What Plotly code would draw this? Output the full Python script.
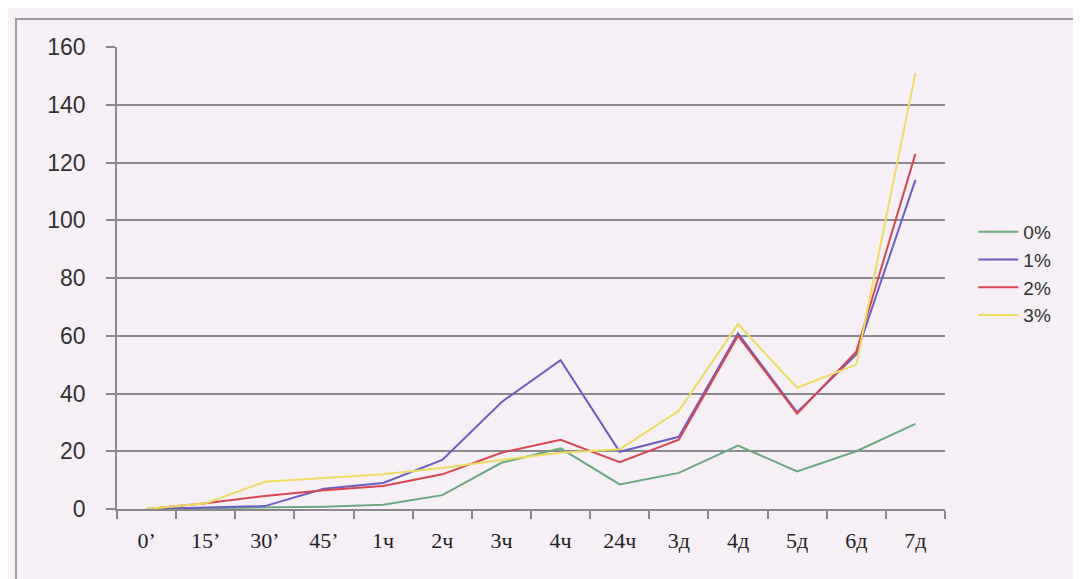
import plotly.graph_objects as go

categories = ["0’", "15’", "30’", "45’", "1ч", "2ч", "3ч", "4ч", "24ч", "3д", "4д", "5д", "6д", "7д"]
series_names = ["0%", "1%", "2%", "3%"]
s0 = [0, 0.3, 0.5, 0.8, 1.5, 4.8, 16, 21, 8.5, 12.5, 22, 13, 20, 29.5]
s1 = [0, 0.4, 1, 7, 9, 17, 37, 51.5, 19.8, 25, 60.8, 33.5, 53.5, 114]
s2 = [0, 2, 4.5, 6.5, 8, 12, 19.5, 24, 16.2, 24, 60, 33, 54.5, 123]
s3 = [0, 2, 9.4, 10.8, 12, 14.2, 17, 19.5, 20.7, 34, 64, 42, 50, 151]
y_ticks = [0, 20, 40, 60, 80, 100, 120, 140, 160]

colors = ["#69a97f", "#6a5fc0", "#d6474f", "#ecdc62"]
W, H = 1081, 579
L, R, T, B = 109, 144, 39, 78

fig = go.Figure()
for name, vals, c in zip(series_names, [s0, s1, s2, s3], colors):
    fig.add_trace(go.Scatter(x=categories, y=vals, name=name, mode="lines",
                             line=dict(color=c, width=2)))

pw = W - L - R
ph = H - T - B
def px_x(p):
    return (p - L) / pw
def px_y(p):
    return (H - B - p) / ph

fig.add_shape(type="rect", xref="paper", yref="paper",
              x0=px_x(8), x1=px_x(1100), y0=px_y(576), y1=px_y(11),
              line=dict(color="#a09da2", width=2), layer="below")

fig.update_layout(
    width=W, height=H,
    margin=dict(l=L, r=R, t=T, b=B),
    paper_bgcolor="#f6eff6",
    plot_bgcolor="#f6eff6",
    showlegend=True,
    legend=dict(xref="container", yref="container", x=0.893, y=0.646,
                xanchor="left", yanchor="top",
                font=dict(family="Liberation Sans, Arial, sans-serif", size=19, color="#333"),
                bgcolor="rgba(0,0,0,0)", itemwidth=40, tracegroupgap=0),
    xaxis=dict(type="category", range=[-0.5, len(categories) - 0.5],
               showline=True, linecolor="#8a878c", linewidth=1.5,
               ticks="outside", tickson="boundaries", ticklen=8, tickcolor="#8a878c", tickwidth=1.5,
               showgrid=False, zeroline=False, ticklabelstandoff=11,
               tickfont=dict(family="Liberation Serif, Times New Roman, serif", size=22, color="#222")),
    yaxis=dict(range=[0, 160], tickvals=y_ticks, ticktext=[str(v) for v in y_ticks],
               showline=True, linecolor="#8a878c", linewidth=1.5,
               ticks="outside", ticklen=9, tickcolor="#8a878c", tickwidth=1.5,
               showgrid=True, gridcolor="#8c8890", gridwidth=1.5, zeroline=False,
               ticklabelstandoff=16,
               tickfont=dict(family="Liberation Sans, Arial, sans-serif", size=23, color="#333")),
)

fig.write_html("out.html")
